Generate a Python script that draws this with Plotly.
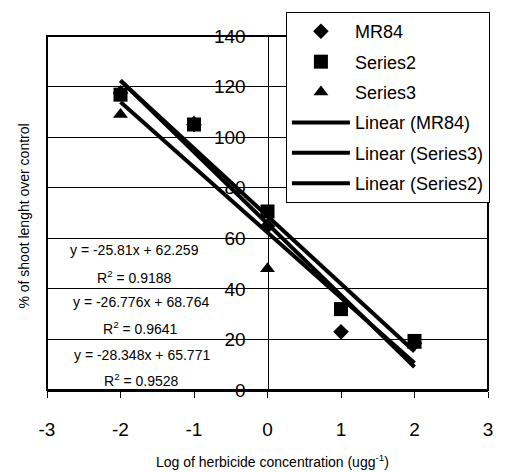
import plotly.graph_objects as go

# ---- data ----
x_vals = [-2, -1, 0, 1, 2]
mr84 = [117.5, 105, 64.8, 23, 18.5]
series2 = [116.8, 105, 70.6, 32, 19.4]
series3 = [109, 106, 48, 30.7, 17.6]

trend_names = ["Linear (MR84)", "Linear (Series3)", "Linear (Series2)"]
trend_slopes = [-28.348, -25.81, -26.776]
trend_intercepts = [65.771, 62.259, 68.764]

eq_lines = ["y = -25.81x + 62.259", "y = -26.776x + 68.764", "y = -28.348x + 65.771"]
r2_lines = ["R<sup>2</sup> = 0.9188", "R<sup>2</sup> = 0.9641", "R<sup>2</sup> = 0.9528"]

x_ticks = [-3, -2, -1, 0, 1, 2, 3]
y_ticks = [0, 20, 40, 60, 80, 100, 120, 140]

FONT = "Arial, Liberation Sans, Helvetica, sans-serif"
W, H = 505, 472
ML, MR, MT, MB = 47, 15, 35, 82
PW, PH = W - ML - MR, H - MT - MB

def px(xp):
    return (xp - ML) / PW

def py(yp):
    return (H - MB - yp) / PH

fig = go.Figure()

marker_series = [("MR84", mr84, "diamond", 12), ("Series2", series2, "square", 14), ("Series3", series3, "triangle-up", 13)]
for i, (name, vals, sym, sz) in enumerate(marker_series):
    fig.add_trace(go.Scatter(
        x=x_vals, y=vals, mode="markers", name=name, legendgroup="g%d" % i,
        marker=dict(symbol=sym, size=sz, color="black", line=dict(width=0)),
    ))

x0, x1 = min(x_vals), max(x_vals)
for j, (name, m, b) in enumerate(zip(trend_names, trend_slopes, trend_intercepts)):
    fig.add_trace(go.Scatter(
        x=[x0, x1], y=[m * x0 + b, m * x1 + b], mode="lines", name=name,
        legendgroup="t%d" % j,
        line=dict(color="black", width=4),
    ))

# equation labels
eq_centers = [(135, 250, 277), (141, 302, 328), (142, 355, 380)]
for (cx, y1, y2), eq, r2 in zip(eq_centers, eq_lines, r2_lines):
    fig.add_annotation(x=px(cx), y=py(y1), xref="paper", yref="paper", text=eq,
                       xanchor="center", yanchor="middle",
                       showarrow=False, font=dict(family=FONT, size=14, color="black"))
    fig.add_annotation(x=px(cx), y=py(y2), xref="paper", yref="paper", text=r2,
                       xanchor="center", yanchor="middle",
                       showarrow=False, font=dict(family=FONT, size=14, color="black"))

# axis titles
fig.add_annotation(x=px(274), y=py(461), xref="paper", yref="paper",
                   text="Log of herbicide concentration (ugg<sup>-1</sup>)",
                   xanchor="center", yanchor="middle",
                   showarrow=False, font=dict(family=FONT, size=14, color="black"))
fig.add_annotation(x=px(24), y=py(216), xref="paper", yref="paper",
                   text="% of shoot lenght over control", textangle=-90,
                   xanchor="center", yanchor="middle",
                   showarrow=False, font=dict(family=FONT, size=14, color="black"))

# plot frame
fig.add_shape(type="rect", xref="paper", yref="paper", x0=0, y0=0, x1=1, y1=1,
              line=dict(color="black", width=2), layer="above")

fig.update_layout(
    width=W, height=H,
    margin=dict(l=ML, r=MR, t=MT, b=MB),
    paper_bgcolor="white", plot_bgcolor="white",
    font=dict(family=FONT, color="black"),
    showlegend=True,
    legend=dict(
        x=px(287), y=py(11), xanchor="left", yanchor="top",
        bgcolor="white", bordercolor="black", borderwidth=1,
        font=dict(family=FONT, size=18, color="black"),
        itemwidth=58, tracegroupgap=4,
    ),
    xaxis=dict(
        range=[-3, 3], tickvals=x_ticks, ticktext=[str(v) for v in x_ticks],
        showgrid=False, zeroline=False, showline=True, linecolor="black", linewidth=2,
        ticks="outside", ticklen=6, tickwidth=1, tickcolor="black",
        tickfont=dict(family=FONT, size=19, color="black"), ticklabelstandoff=15,
    ),
    yaxis=dict(
        range=[0, 140], tickvals=y_ticks, ticktext=[str(v) for v in y_ticks],
        anchor="free", position=0.5,
        showgrid=True, gridcolor="black", gridwidth=1,
        zeroline=False, showline=True, linecolor="black", linewidth=1,
        ticks="", tickfont=dict(family=FONT, size=19, color="black"),
        ticklabelstandoff=18,
    ),
)

fig.write_html("out.html")
